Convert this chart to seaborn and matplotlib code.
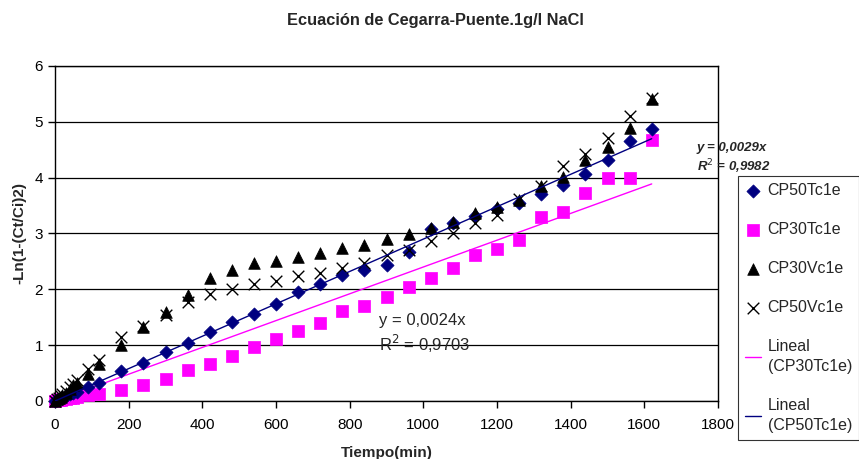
import matplotlib
matplotlib.use("Agg")
import matplotlib.pyplot as plt
import seaborn as sns
import numpy as np

# tiempos (min)
tiempo = [0, 5, 10, 15, 20, 30, 40, 50, 60, 90, 120, 180, 240, 300, 360, 420, 480,
          540, 600, 660, 720, 780, 840, 900, 960, 1020, 1080, 1140, 1200, 1260,
          1320, 1380, 1440, 1500, 1560, 1620]

cp50tc1e = [0, 0.02, 0.03, 0.05, 0.06, 0.09, 0.12, 0.14, 0.17, 0.25, 0.32, 0.53, 0.68,
            0.87, 1.03, 1.23, 1.41, 1.56, 1.73, 1.95, 2.09, 2.25, 2.34, 2.43, 2.66,
            3.08, 3.18, 3.32, 3.44, 3.55, 3.70, 3.86, 4.07, 4.32, 4.66, 4.87]
cp30tc1e = [0, 0.01, 0.01, 0.02, 0.03, 0.04, 0.05, 0.06, 0.08, 0.11, 0.13, 0.20, 0.29,
            0.39, 0.55, 0.67, 0.81, 0.96, 1.11, 1.26, 1.39, 1.62, 1.71, 1.87, 2.05,
            2.20, 2.38, 2.61, 2.73, 2.89, 3.29, 3.39, 3.73, 4.00, 4.00, 4.68]
cp30vc1e = [0, 0.03, 0.05, 0.08, 0.10, 0.15, 0.22, 0.28, 0.33, 0.48, 0.66, 1.00, 1.33,
            1.59, 1.89, 2.20, 2.35, 2.47, 2.51, 2.58, 2.65, 2.74, 2.80, 2.90, 2.99,
            3.09, 3.20, 3.36, 3.48, 3.60, 3.85, 4.02, 4.32, 4.55, 4.89, 5.41]
cp50vc1e = [0, 0.03, 0.06, 0.09, 0.12, 0.18, 0.25, 0.31, 0.38, 0.58, 0.73, 1.14, 1.34,
            1.54, 1.78, 1.91, 2.01, 2.09, 2.15, 2.23, 2.29, 2.38, 2.48, 2.61, 2.71,
            2.86, 3.01, 3.18, 3.33, 3.61, 3.85, 4.20, 4.43, 4.71, 5.11, 5.42]

# lineas de tendencia (ecuaciones del grafico)
pend_30 = 0.0024
pend_50 = 0.0029
tx = np.array([0, 1620])

sns.set_style("white")
plt.rcParams['font.family'] = ['Liberation Sans', 'DejaVu Sans']

fig = plt.figure(figsize=(8.59, 4.59), dpi=100)
ax = fig.add_axes([55/859, 1-401/459, 663/859, 335/459])

sns.scatterplot(x=tiempo, y=cp50tc1e, marker='D', s=45, color='#000080',
                edgecolor='#000080', linewidth=0.5, ax=ax, label='CP50Tc1e', zorder=4, clip_on=False)
sns.scatterplot(x=tiempo, y=cp30tc1e, marker='s', s=80, color='#FF00FF',
                edgecolor='#FF00FF', linewidth=0.5, ax=ax, label='CP30Tc1e', zorder=3, clip_on=False)
sns.scatterplot(x=tiempo, y=cp30vc1e, marker='^', s=70, color='black',
                edgecolor='black', linewidth=0.5, ax=ax, label='CP30Vc1e', zorder=5, clip_on=False)
sns.scatterplot(x=tiempo, y=cp50vc1e, marker='x', s=70, color='black',
                linewidth=1.0, ax=ax, label='CP50Vc1e', zorder=6, clip_on=False)
sns.lineplot(x=tx, y=pend_30*tx, color='#FF00FF', linewidth=1.0, ax=ax,
             label='Lineal\n(CP30Tc1e)', zorder=2)
sns.lineplot(x=tx, y=pend_50*tx, color='#000080', linewidth=1.0, ax=ax,
             label='Lineal\n(CP50Tc1e)', zorder=7)

ax.set_xlim(0, 1800)
ax.set_ylim(0, 6)
ax.set_xticks(range(0, 1801, 200))
ax.set_yticks(range(0, 7))
ax.tick_params(axis='both', direction='out', length=5, width=1, labelsize=11,
               colors='black', left=True, bottom=True)
ax.tick_params(axis='x', pad=7)
for s in ax.spines.values():
    s.set_color('black')
    s.set_linewidth(1.0)
ax.grid(axis='y', color='black', linewidth=0.9)
ax.set_axisbelow(True)

ax.set_xlabel('Tiempo(min)', fontsize=11, fontweight='bold', labelpad=10)
ax.set_ylabel('-Ln(1-(Ct/Ci)2)', fontsize=11, fontweight='bold', labelpad=6)
fig.text(0.507, 1-21/459, 'Ecuación de Cegarra-Puente.1g/l NaCl', ha='center', va='center',
         fontsize=11.8, fontweight='bold')

ax.text(880, 1.45, 'y = 0,0024x', fontsize=12, va='center')
ax.text(880, 1.02, 'R$^2$ = 0,9703', fontsize=12, va='center')
fig.text(697/859, 1-148/459, 'y = 0,0029x', fontsize=9.5, fontweight='bold', style='italic', va='center')
fig.text(697/859, 1-167/459, 'R$^2$ = 0,9982', fontsize=9.5, fontweight='bold', style='italic', va='center')

handles, labels = ax.get_legend_handles_labels()
ax.get_legend().remove()
leg = fig.legend(handles, labels, loc='upper left', bbox_to_anchor=(738/859, 1-176/459),
                 fontsize=11.5, frameon=True, fancybox=False, edgecolor='black',
                 labelspacing=1.5, handlelength=1.0, handletextpad=0.4, borderpad=0.45,
                 borderaxespad=0)
for t in leg.get_texts():
    t.set_linespacing(1.4)
leg.get_frame().set_linewidth(0.8)

plt.savefig('out.png', dpi=100)
plt.close()
